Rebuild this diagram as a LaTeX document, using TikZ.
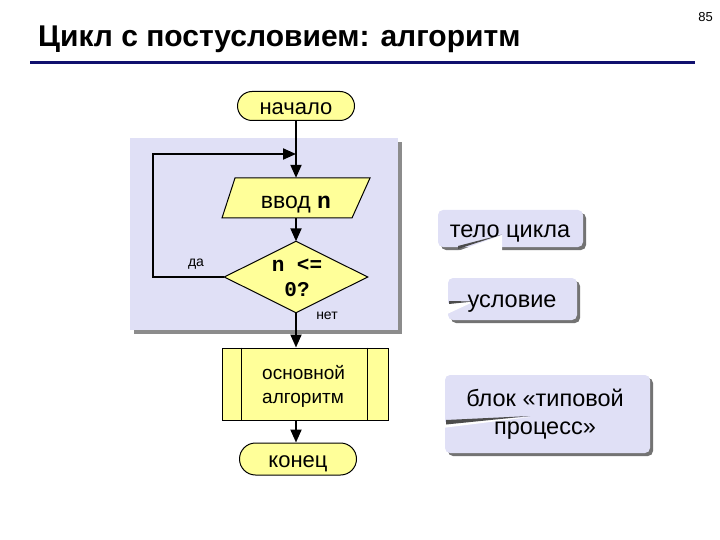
\documentclass[tikz,border=0pt]{standalone}
\usepackage{fontspec}
\setmainfont{Liberation Sans}
\newfontfamily\cour{Liberation Mono}
\usetikzlibrary{arrows.meta,shapes.misc}
\definecolor{yel}{RGB}{255,255,153}
\definecolor{lav}{RGB}{224,224,246}
\definecolor{navy}{RGB}{16,16,110}
\tikzset{
  term/.style={rounded rectangle, draw, fill=yel, line width=1pt, minimum width=117pt, minimum height=29pt, inner sep=0pt},
  ttext/.style={anchor=mid, inner sep=0pt, font=\fontsize{22}{26}\selectfont},
  flow/.style={line width=2pt, -{Triangle[length=13pt,width=11pt]}},
  callbox/.style={rounded corners=5pt, fill=lav},
  cshadow/.style={rounded corners=5pt, fill=black!55},
  ctext/.style={anchor=mid, inner sep=0pt, font=\fontsize{23.5}{28}\selectfont},
  small/.style={anchor=mid, inner sep=0pt, font=\fontsize{14}{16}\selectfont}
}
\begin{document}
\begin{tikzpicture}[x=1pt,y=-1pt]
\useasboundingbox (0,0) rectangle (720,540);
% title
\node[anchor=base west, font=\fontsize{30}{34}\selectfont\bfseries, inner sep=0pt] (title) at (38,47) {Цикл с постусловием: алгоритм};
\node[anchor=east, font=\fontsize{13}{15}\selectfont, inner sep=0pt] (pnum) at (713,17) {85};
\draw[navy, line width=3pt] (30,63) -- (695,63);
% panel
\fill[black!45] (134,142) rectangle (402,334);
\fill[lav] (130,138) rectangle (398,330);
% start
\node[term] (start) at (296,106) {};
\node[ttext] (startt) at (296,112) {начало};
% input
\node[minimum width=130pt, minimum height=40pt, inner sep=0pt] (input) at (296,198) {};
\filldraw[fill=yel, line width=1pt] (235,178) -- (370,178) -- (352,218) -- (222,218) -- cycle;
\node[ttext, font=\fontsize{23}{26}\selectfont] (inputt) at (296,206) {ввод {\cour\bfseries n}};
% condition
\node[minimum width=143pt, minimum height=71pt, inner sep=0pt] (cond) at (296,277) {};
\filldraw[fill=yel, line width=1pt] (cond.north) -- (cond.east) -- (cond.south) -- (cond.west) -- cycle;
\node[anchor=mid, inner sep=0pt, font=\fontsize{21}{27}\selectfont\cour\bfseries] (condt1) at (297,268.5) {n <=};
\node[anchor=mid, inner sep=0pt, font=\fontsize{21}{27}\selectfont\cour\bfseries] (condt2) at (297,294) {0?};
% process
\node[draw, fill=yel, line width=1pt, minimum width=166pt, minimum height=72pt, inner sep=0pt] (proc) at (305,384) {};
\draw[line width=1pt] ([xshift=20pt]proc.north west) -- ([xshift=20pt]proc.south west);
\draw[line width=1pt] ([xshift=-21pt]proc.north east) -- ([xshift=-21pt]proc.south east);
\node[anchor=mid west, inner sep=0pt, font=\fontsize{19}{24}\selectfont] (proct1) at (262,377) {основной};
\node[anchor=mid west, inner sep=0pt, font=\fontsize{19}{24}\selectfont] (proct2) at (262,401) {алгоритм};
% stop
\node[term, minimum height=32pt] (stop) at (298,459) {};
\node[ttext] (stopt) at (298,464.5) {конец};
% connectors
\coordinate (join) at (296,154);
\coordinate (corner) at (153,277);
\draw[flow] (start.south) -- (input.north);
\draw[flow] (input.south) -- (cond.north);
\draw[flow] (cond.west) -- (corner) |- (join);
\draw[flow] (cond.south) -- (cond.south |- proc.north);
\draw[flow] (cond.south |- proc.south) -- (cond.south |- stop.north);
\node[small] (yes) at (196,264) {да};
\node[small] (no) at (327,316.5) {нет};
% callouts
\fill[cshadow] (441,213) rectangle (586,250);
\fill[callbox] (438,210) rectangle (583,247);
\fill[white] (458,251) -- (502,235) -- (502,251) -- cycle;
\fill[black!70] (458,249) -- (502,234.5) -- (458,246) -- cycle;
\node[ctext] (body) at (510,235) {тело цикла};
\fill[cshadow] (451,281) rectangle (580,323);
\fill[callbox] (448,278) rectangle (577,320);
\fill[white] (445,303) -- (473,302) -- (445,315) -- cycle;
\fill[black!70] (449,301) -- (473,301.5) -- (449,304) -- cycle;
\node[ctext] (cnd) at (512,305) {условие};
\fill[cshadow] (448,378) rectangle (653,456);
\fill[callbox] (445,375) rectangle (650,453);
\fill[white] (442,422) -- (530,417) -- (442,428) -- cycle;
\fill[black!70] (446,420) -- (530,416) -- (446,424.5) -- cycle;
\node[ctext] (blk1) at (545,404) {блок «типовой};
\node[ctext] (blk2) at (545,432) {процесс»};
\end{tikzpicture}
\end{document}
